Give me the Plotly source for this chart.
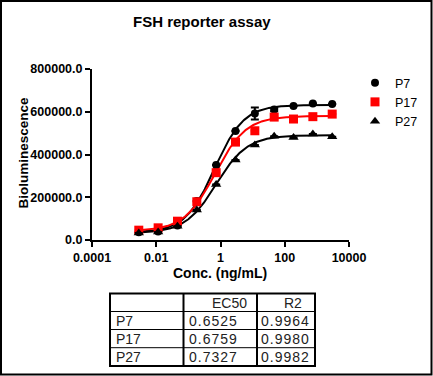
import numpy as np
import plotly.graph_objects as go

# ---------------- data ----------------
conc = [0.00286, 0.01144, 0.04578, 0.1831, 0.7324, 2.930, 11.72, 46.88, 187.5, 750.0, 3000.0]
p7 = [36000, 40000, 68000, 183000, 351000, 510000, 592000, 610000, 627000, 639000, 636000]
p17 = [46000, 57000, 88000, 179000, 315000, 458000, 511000, 575000, 566000, 577000, 589000]
p27 = [33000, 38000, 64000, 140000, 260000, 374000, 444000, 485000, 479000, 496000, 483000]
p7_err = [0, 0, 0, 0, 0, 0, 28000, 8000, 0, 0, 0]
p17_err = [0, 0, 0, 0, 0, 0, 0, 0, 0, 0, 0]
p27_err = [0, 0, 0, 0, 0, 0, 0, 0, 0, 0, 0]

series_names = ["P7", "P17", "P27"]
ec50 = ["0.6525", "0.6759", "0.7327"]
r2 = ["0.9964", "0.9980", "0.9982"]

# 4PL fit parameters (bottom, top, hill) ; EC50 from table
fit_bottom = [35000, 42000, 32000]
fit_top = [632000, 580000, 490000]
fit_hill = [0.95, 0.9, 0.9]

x_tickvals = [0.0001, 0.01, 1, 100, 10000]
x_ticktext = ["0.0001", "0.01", "1", "100", "10000"]
y_tickvals = [0, 200000, 400000, 600000, 800000]

colors = ["black", "#ff0000", "black"]
symbols = ["circle", "square", "triangle-up"]
sizes = [8, 9, 9]

# ---------------- layout geometry ----------------
W, H = 433, 376
L, R, T, B = 92, 84, 69, 136
PW = W - L - R
PH = H - T - B


def px(xp):
    return (xp - L) / PW


def py(yp):
    return (H - B - yp) / PH


FONT = "Liberation Sans, Arial, sans-serif"

fig = go.Figure()

ys = [p7, p17, p27]
errs = [p7_err, p17_err, p27_err]
xc = np.logspace(np.log10(min(conc)), np.log10(max(conc)), 300)
for i in range(3):
    e = float(ec50[i])
    yc = fit_bottom[i] + (fit_top[i] - fit_bottom[i]) / (1 + (e / xc) ** fit_hill[i])
    fig.add_trace(go.Scatter(x=xc, y=yc, mode="lines", line=dict(color=colors[i], width=2),
                             showlegend=False, hoverinfo="skip"))
for i in range(3):
    fig.add_trace(go.Scatter(
        x=conc, y=ys[i], mode="markers", name=series_names[i],
        marker=dict(color=colors[i], symbol=symbols[i], size=sizes[i]),
        error_y=dict(type="data", array=errs[i], color=colors[i], thickness=2, width=4),
    ))

axis_common = dict(showline=True, linecolor="black", linewidth=2, ticks="outside", ticklen=5,
                   tickwidth=2, tickcolor="black", showgrid=False, zeroline=False,
                   tickfont=dict(family=FONT, size=12.5, color="black", weight="bold"))

fig.update_xaxes(type="log", range=[-4, 4], tickvals=x_tickvals, ticktext=x_ticktext, **axis_common)
fig.update_yaxes(range=[0, 800000], tickvals=y_tickvals, tickformat=".1f", **axis_common)

annotations = []
# title
annotations.append(dict(text="FSH reporter assay", x=px(202), y=py(22), xref="paper", yref="paper",
                        showarrow=False, font=dict(family=FONT, size=15, color="black", weight="bold"),
                        xanchor="center", yanchor="middle"))
# axis titles
annotations.append(dict(text="Bioluminescence", x=px(22.5), y=py(153), xref="paper", yref="paper",
                        showarrow=False, textangle=-90,
                        font=dict(family=FONT, size=13.5, color="black", weight="bold"),
                        xanchor="center", yanchor="middle"))
annotations.append(dict(text="Conc. (ng/mL)", x=px(220), y=py(272.5), xref="paper", yref="paper",
                        showarrow=False, font=dict(family=FONT, size=14, color="black", weight="bold"),
                        xanchor="center", yanchor="middle"))

shapes = []
# outer frame of image
shapes.append(dict(type="rect", xref="paper", yref="paper", x0=px(1), x1=px(431.5), y0=py(1), y1=py(374.5),
                   line=dict(color="black", width=2)))

# table
tx0, tx1, tx2, tx3 = 110, 183.5, 257, 315
ty = [293.5, 311.5, 329.5, 347.7, 366]
shapes.append(dict(type="rect", xref="paper", yref="paper", x0=px(tx0), x1=px(tx3), y0=py(ty[0]), y1=py(ty[-1]),
                   line=dict(color="black", width=2)))
for xv in (tx1, tx2):
    shapes.append(dict(type="line", xref="paper", yref="paper", x0=px(xv), x1=px(xv), y0=py(ty[0]), y1=py(ty[-1]),
                       line=dict(color="black", width=2)))
for yv in ty[1:-1]:
    shapes.append(dict(type="line", xref="paper", yref="paper", x0=px(tx0), x1=px(tx3), y0=py(yv), y1=py(yv),
                       line=dict(color="black", width=1)))

tfont = dict(family=FONT, size=14, color="#222222")


def spaced(s):
    return '<span style="letter-spacing:1px">' + s + '</span>'


annotations.append(dict(text="EC50", x=px(249), y=py((ty[0] + ty[1]) / 2), xref="paper", yref="paper",
                        showarrow=False, font=tfont, xanchor="right", yanchor="middle"))
annotations.append(dict(text="R2", x=px(304), y=py((ty[0] + ty[1]) / 2), xref="paper", yref="paper",
                        showarrow=False, font=tfont, xanchor="right", yanchor="middle"))
for i in range(3):
    yc_ = py((ty[i + 1] + ty[i + 2]) / 2)
    annotations.append(dict(text=series_names[i], x=px(114), y=yc_, xref="paper", yref="paper",
                            showarrow=False, font=tfont, xanchor="left", yanchor="middle"))
    annotations.append(dict(text=spaced(ec50[i]), x=px(187), y=yc_, xref="paper", yref="paper",
                            showarrow=False, font=tfont, xanchor="left", yanchor="middle"))
    annotations.append(dict(text=spaced(r2[i]), x=px(259), y=yc_, xref="paper", yref="paper",
                            showarrow=False, font=tfont, xanchor="left", yanchor="middle"))

fig.update_layout(
    width=W, height=H,
    margin=dict(l=L, r=R, t=T, b=B, autoexpand=False),
    paper_bgcolor="white", plot_bgcolor="white",
    showlegend=True,
    legend=dict(x=px(355), y=py(68), xanchor="left", yanchor="top", xref="paper", yref="paper",
                font=dict(family=FONT, size=12.5, color="black"), bgcolor="rgba(0,0,0,0)",
                borderwidth=0, tracegroupgap=0),
    annotations=annotations,
    shapes=shapes,
)

fig.write_html("out.html", config={"displayModeBar": False},
               post_script="document.body.style.margin='0';document.body.style.padding='0';")
